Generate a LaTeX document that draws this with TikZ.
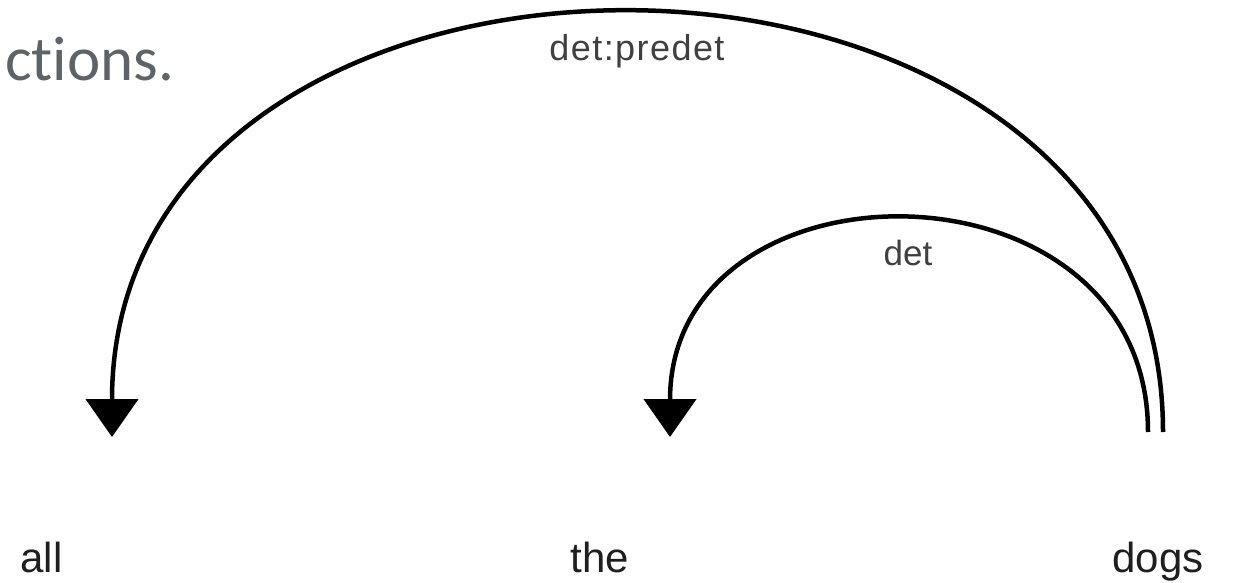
\documentclass[tikz,border=0pt]{standalone}
\usepackage{fontspec}
\setmainfont{Liberation Sans}
\newfontfamily\slidefont[Ligatures=NoCommon]{Carlito}
\newfontfamily\spacedfont[LetterSpace=4]{Liberation Sans}
\usetikzlibrary{arrows.meta}
\definecolor{slidegrey}{RGB}{95,99,104}
\begin{document}
\begin{tikzpicture}[x=1pt,y=-1pt,
  word/.style={font=\fontsize{42}{50}\selectfont, text=black!88, anchor=base, inner sep=0pt},
  lab/.style={font=\fontsize{35}{42}\selectfont, text=black!75, anchor=base, inner sep=0pt},
  deparc/.style={line width=4.5pt, -{Triangle[width=52pt,length=38pt]}}]
\useasboundingbox (0,0) rectangle (1235,583);
\node[font=\slidefont\fontsize{63}{70}\selectfont, text=slidegrey, anchor=base west, inner sep=0pt] (title) at (5,81) {ct\kern0pt ions.};
\node[word] (all) at (41.5,572) {all};
\node[word] (the) at (600,572) {the};
\node[word] (dogs) at (1158,572) {dogs};
\coordinate (s1) at (1163,432);
\coordinate (s2) at (1148,432);
\coordinate (t1) at (112,437);
\coordinate (t2) at (670,437);
\draw[deparc] (s1) .. controls (1163,-125) and (112,-125) .. (t1);
\draw[deparc] (s2) .. controls (1148,150) and (670,150) .. (t2);
\node[lab, font=\spacedfont\fontsize{36}{42}\selectfont] (l1) at (637,61) {det:predet};
\node[lab] (l2) at (908,265) {det};
\end{tikzpicture}
\end{document}
